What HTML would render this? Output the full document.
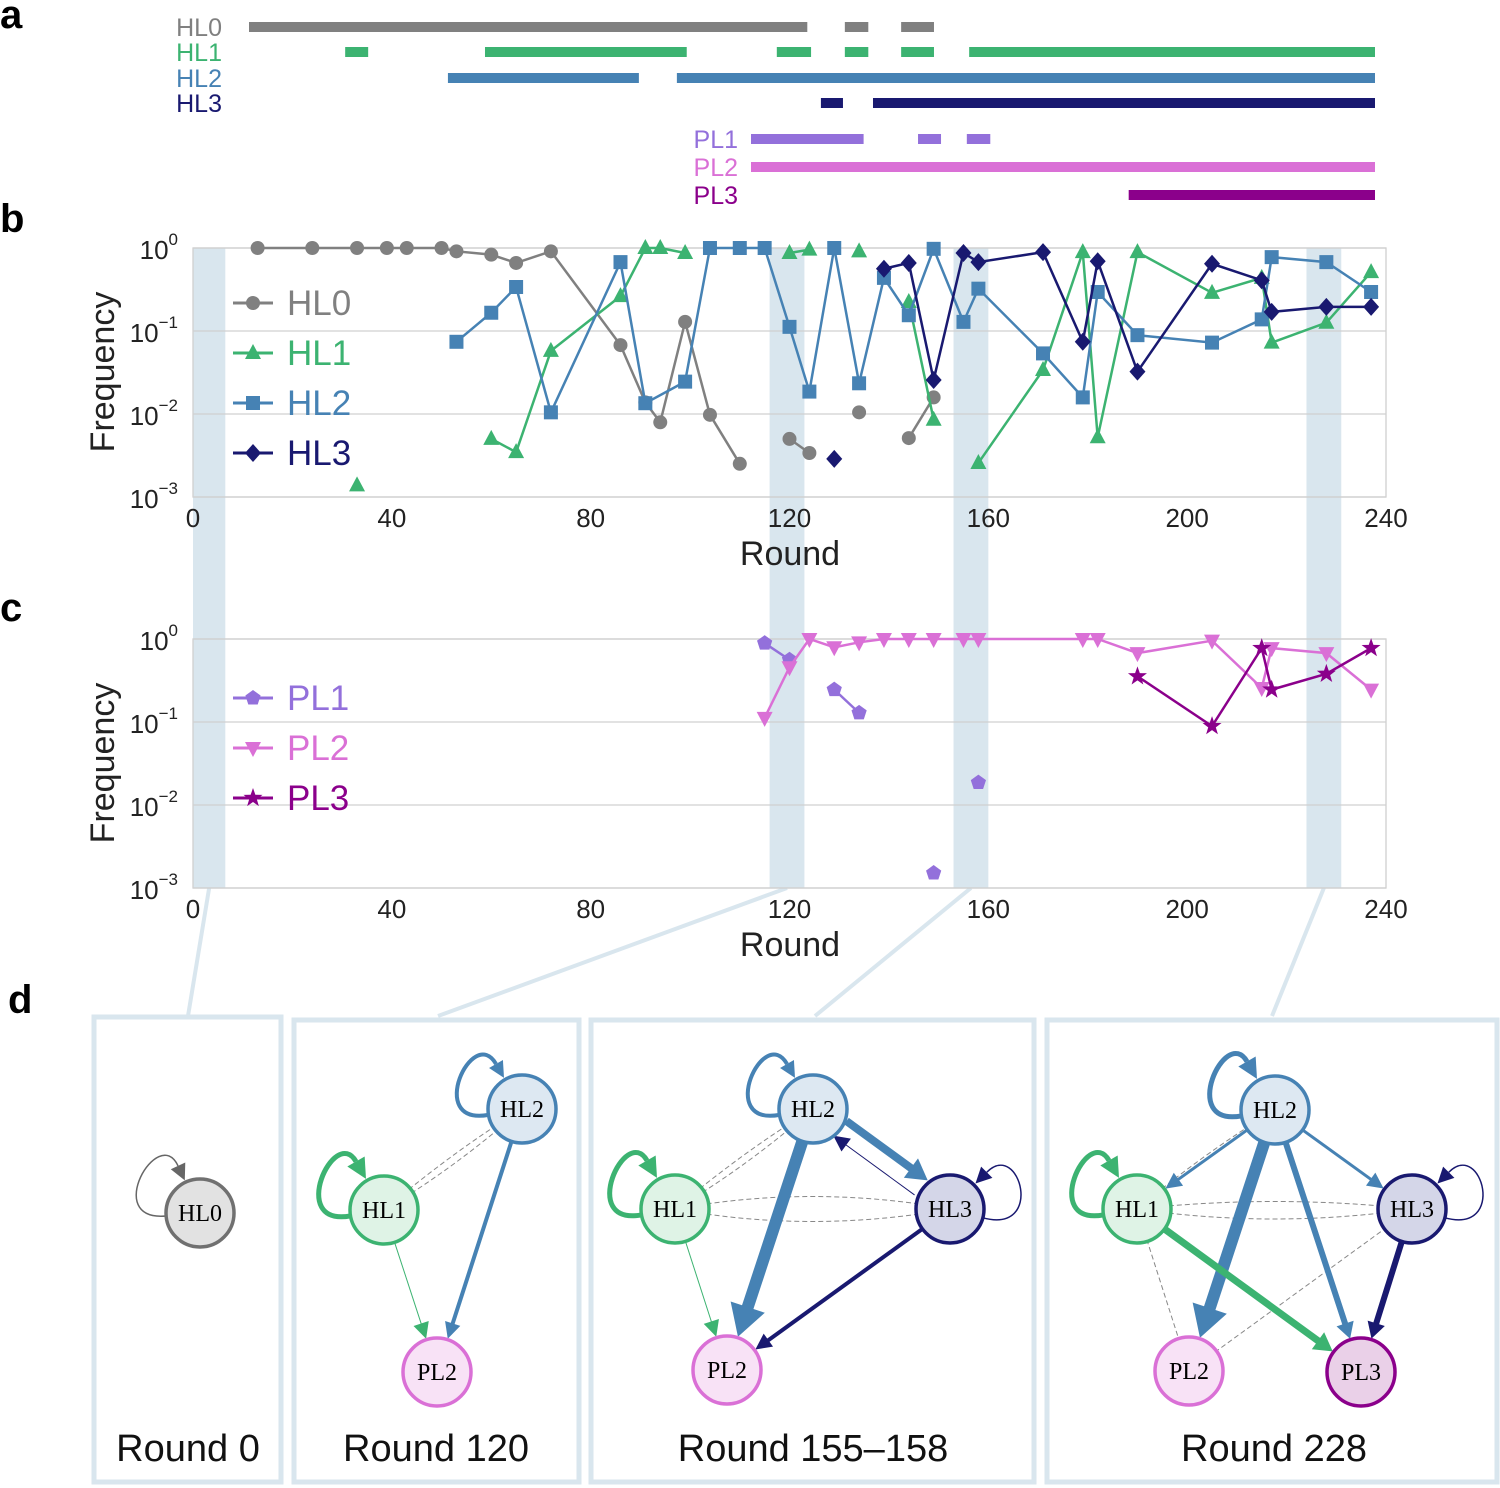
<!DOCTYPE html>
<html><head><meta charset="utf-8"><style>
body{margin:0;background:#fff;}
svg{display:block;font-family:"Liberation Sans",sans-serif;}
</style></head><body>
<svg id="fig" width="1500" height="1488" viewBox="0 0 1500 1488"></svg>
<script>
// ---------- panel a timelines (round start/end) ----------
const timelineNames=["HL0","HL1","HL2","HL3","PL1","PL2","PL3"];
const tlHL0=[[0,119],[127,132],[139,146]];
const tlHL1=[[20.5,25.4],[50.3,93.3],[112.5,119.8],[127,132],[139,146],[153.5,240]];
const tlHL2=[[42.4,83.1],[91.2,240]];
const tlHL3=[[121.9,126.6],[133,240]];
const tlPL1=[[107,131],[142.6,147.5],[153,158]];
const tlPL2=[[107,240]];
const tlPL3=[[187.5,240]];
// ---------- panel b data (round, log10 frequency; null = break) ----------
const hl0Rounds=[13,24,33,39,43,50,53,60,65,72,86,91,94,99,104,110,null,120,124,null,134,null,144,149];
const hl0Log=[0,0,0,0,0,0,-0.04,-0.08,-0.18,-0.04,-1.17,-1.86,-2.1,-0.89,-2.01,-2.6,null,-2.3,-2.47,null,-1.98,null,-2.29,-1.8];
const hl1Rounds=[33,null,60,65,72,86,91,94,99,null,120,124,null,134,null,144,149,null,158,171,179,182,190,205,215,217,228,237];
const hl1Log=[-2.86,null,-2.3,-2.46,-1.24,-0.58,0,0,-0.06,null,-0.06,-0.02,null,-0.04,null,-0.65,-2.07,null,-2.59,-1.47,-0.05,-2.28,-0.05,-0.54,-0.36,-1.14,-0.9,-0.29];
const hl2Rounds=[53,60,65,72,86,91,99,104,110,115,120,124,129,134,139,144,149,155,158,171,179,182,190,205,215,217,228,237];
const hl2Log=[-1.13,-0.78,-0.47,-1.98,-0.17,-1.87,-1.61,0,0,0,-0.95,-1.73,0,-1.63,-0.36,-0.81,-0.01,-0.89,-0.49,-1.27,-1.8,-0.53,-1.05,-1.14,-0.86,-0.11,-0.17,-0.53];
const hl3Rounds=[129,null,139,144,149,155,158,171,179,182,190,205,215,217,228,237];
const hl3Log=[-2.54,null,-0.25,-0.18,-1.59,-0.06,-0.17,-0.05,-1.13,-0.16,-1.49,-0.19,-0.39,-0.77,-0.71,-0.71];
// ---------- panel c data ----------
const pl1Rounds=[115,120,null,129,134,null,149,null,158];
const pl1Log=[-0.05,-0.25,null,-0.61,-0.89,null,-2.82,null,-1.73];
const pl2Rounds=[115,120,124,129,134,139,144,149,155,158,179,182,190,205,215,217,228,237];
const pl2Log=[-0.95,-0.34,0,-0.1,-0.04,0,0,0,0,0,0,0,-0.17,-0.02,-0.59,-0.11,-0.17,-0.61];
const pl3Rounds=[190,205,215,217,228,237];
const pl3Log=[-0.45,-1.05,-0.11,-0.61,-0.42,-0.11];
// ---------- axes ----------
const xTicks=[0,40,80,120,160,200,240];
const yTickExp=[0,-1,-2,-3];
const bandRanges=[[0,6.5],[116,123],[153,160],[224,231]];

const C={HL0:"#808080",HL1:"#3cb371",HL2:"#4682b4",HL3:"#191970",PL1:"#9370db",PL2:"#da70d6",PL3:"#8b008b"};
const NS="http://www.w3.org/2000/svg";
const svg=document.getElementById('fig');
function el(tag,attrs,parent,text){const e=document.createElementNS(NS,tag);for(const k in attrs)e.setAttribute(k,attrs[k]);if(text!==undefined)e.textContent=text;(parent||svg).appendChild(e);return e;}

const X0=193,X1=1386;
const xs=r=>X0+r*(X1-X0)/240;
const ybTop=248, ycTop=639, dec=83;
const yb=l=>ybTop-l*dec;
const yc=l=>ycTop-l*dec;
const xa=r=>249+r*(1126/240);

[["a",0,28],["b",0,232],["c",0,621],["d",8,1013]].forEach(([t,x,y])=>{
  const e=el('text',{x:x,y:y,'font-size':40,'font-weight':'bold',fill:'#000'},svg,t);
  
  
});

// ---------- panel a ----------
const tlData=[tlHL0,tlHL1,tlHL2,tlHL3,tlPL1,tlPL2,tlPL3];
const tlRowY=[27,52,78,103,139,167,195];
const gA=el('g',{});


tlData.forEach((segs,i)=>{
  const nm=timelineNames[i];
  const lx=i<4?222:738;
  const lab=el('text',{x:lx,y:tlRowY[i]+9,'font-size':25,fill:C[nm],'text-anchor':'end'},gA,nm);
  
  
  segs.forEach(s=>{
    const r=el('rect',{x:xa(s[0]),y:tlRowY[i]-5,width:xa(s[1])-xa(s[0]),height:10,fill:C[nm]},gA);
    
    
  });
});

// ---------- bands & connectors ----------
bandRanges.forEach((b,i)=>{
  const r=el('rect',{x:xs(b[0]),y:ybTop,width:xs(b[1])-xs(b[0]),height:888-ybTop,fill:'#d9e6ee'});
  
  
});
const connTargets=[188,438,815,1272];
bandRanges.forEach((b,i)=>{
  const cx=(xs(b[0])+xs(b[1]))/2;
  const l=el('line',{x1:cx,y1:888,x2:connTargets[i],y2:1016,stroke:'#d9e6ee','stroke-width':4});
  
  
});

// ---------- markers ----------
function marker(g,type,x,y,col){
  let m;
  if(type==='circle')m=el('circle',{cx:x,cy:y,r:7,fill:col},g);
  else if(type==='tri')m=el('polygon',{points:`${x},${y-9} ${x-8},${y+6} ${x+8},${y+6}`,fill:col},g);
  else if(type==='square')m=el('rect',{x:x-7,y:y-7,width:14,height:14,fill:col},g);
  else if(type==='diamond')m=el('polygon',{points:`${x},${y-9} ${x+8},${y} ${x},${y+9} ${x-8},${y}`,fill:col},g);
  else if(type==='tridown')m=el('polygon',{points:`${x-8},${y-6} ${x+8},${y-6} ${x},${y+9}`,fill:col},g);
  else if(type==='pent'){let p=[];for(let k=0;k<5;k++){const a=-Math.PI/2+k*2*Math.PI/5;p.push((x+8*Math.cos(a))+','+(y+8*Math.sin(a)));}m=el('polygon',{points:p.join(' '),fill:col},g);}
  else if(type==='star'){let p=[];for(let k=0;k<10;k++){const a=-Math.PI/2+k*Math.PI/5;const rr=k%2?4:10;p.push((x+rr*Math.cos(a))+','+(y+rr*Math.sin(a)));}m=el('polygon',{points:p.join(' '),fill:col},g);}
  
  
}
function series(name,rounds,logs,yf,type){
  const g=el('g',{});
  
  
  let seg=[];const segs=[];
  rounds.forEach((r,i)=>{if(r===null||logs[i]===null){if(seg.length)segs.push(seg);seg=[];}else seg.push([xs(r),yf(logs[i])]);});
  if(seg.length)segs.push(seg);
  segs.forEach(s=>{if(s.length>1){const p=el('polyline',{points:s.map(q=>q.join(',')).join(' '),fill:'none',stroke:C[name],'stroke-width':2.5},g);}});
  segs.forEach(s=>s.forEach(q=>marker(g,type,q[0],q[1],C[name])));
}
function axes(prefix,top,yf){
  const g=el('g',{});
  
  
  yTickExp.forEach(e=>{
    const y=yf(e);
    el('line',{x1:X0,y1:y,x2:X1,y2:y,stroke:'#d0d0d0','stroke-width':1.3},g);
    const t=el('text',{x:178,y:y+11,'font-size':26,fill:'#222','text-anchor':'end'},g,'10');
    
    
    el('tspan',{dy:-14,'font-size':17},t,String(e).replace('-','\u2212'));
  });
  el('rect',{x:X0,y:top,width:X1-X0,height:3*dec,fill:'none',stroke:'#d0d0d0','stroke-width':1.3},g);
  xTicks.forEach(v=>{
    const t=el('text',{x:xs(v),y:top+3*dec+30,'font-size':26,fill:'#222','text-anchor':'middle'},g,String(v));
    
    
  });
  const xt=el('text',{x:790,y:top+3*dec+68,'font-size':34,fill:'#222','text-anchor':'middle'},g,'Round');
  
  
  const yt=el('text',{x:0,y:0,'font-size':34,fill:'#222','text-anchor':'middle',transform:`translate(114,${top+124}) rotate(-90)`},g,'Frequency');
  
  
}
axes('panel-b',ybTop,yb);
axes('panel-c',ycTop,yc);
series('HL0',hl0Rounds,hl0Log,yb,'circle');
series('HL1',hl1Rounds,hl1Log,yb,'tri');
series('HL2',hl2Rounds,hl2Log,yb,'square');
series('HL3',hl3Rounds,hl3Log,yb,'diamond');
series('PL1',pl1Rounds,pl1Log,yc,'pent');
series('PL2',pl2Rounds,pl2Log,yc,'tridown');
series('PL3',pl3Rounds,pl3Log,yc,'star');

function legend(items,y0){
  items.forEach(([nm,type],i)=>{
    const g=el('g',{});
    
    
    const y=y0+i*50;
    el('line',{x1:233,y1:y,x2:273,y2:y,stroke:C[nm],'stroke-width':3},g);
    marker(g,type,253,y,C[nm]);
    el('text',{x:287,y:y+12,'font-size':35,fill:C[nm]},g,nm);
  });
}
legend([['HL0','circle'],['HL1','tri'],['HL2','square'],['HL3','diamond']],303);
legend([['PL1','pent'],['PL2','tridown'],['PL3','star']],698);

// ---------- panel d ----------
const boxes=[[94,1017,187,465,'Round 0',188],[294,1020,285,462,'Round 120',436],[591,1020,443,462,'Round 155\u2013158',813],[1047,1020,450,462,'Round 228',1274]];
boxes.forEach((b,i)=>{
  const g=el('g',{});
  
  
  el('rect',{x:b[0],y:b[1],width:b[2],height:b[3],fill:'#fff',stroke:'#d9e6ee','stroke-width':5},g);
  const t=el('text',{x:b[5],y:1461,'font-size':38,fill:'#111','text-anchor':'middle'},g,b[4]);
  
  
});
const R=34;
const fills={HL0:['#e2e2e2','#707070'],HL1:['#dff3e6','#3cb371'],HL2:['#dde8f2','#4682b4'],HL3:['#d4d6e8','#191970'],PL2:['#f8e2f6','#da70d6'],PL3:['#ead0e8','#8b008b']};
function arrow(a,b,w,col){
  const dx=b[0]-a[0],dy=b[1]-a[1],L=Math.hypot(dx,dy),ux=dx/L,uy=dy/L;
  const sx=a[0]+ux*R,sy=a[1]+uy*R,ex=b[0]-ux*(R+1),ey=b[1]-uy*(R+1);
  const hl=Math.max(16,w*2.6),hw=Math.max(8,w*1.5);
  const bx=ex-ux*hl,by=ey-uy*hl;
  const l=el('line',{x1:sx,y1:sy,x2:bx+ux*2,y2:by+uy*2,stroke:col,'stroke-width':w});
  
  
  el('polygon',{points:`${ex},${ey} ${bx-uy*hw},${by+ux*hw} ${bx+uy*hw},${by-ux*hw}`,fill:col});
}
function dashed(a,b,bend){
  const mx=(a[0]+b[0])/2,my=(a[1]+b[1])/2+(bend||0);
  const p=el('path',{d:`M${a[0]},${a[1]} Q${mx},${my} ${b[0]},${b[1]}`,fill:'none',stroke:'#888','stroke-width':1,'stroke-dasharray':'5,3'});
  
  
}
function loop(c,w,col,a1,a2){
  const r1=a1*Math.PI/180,r2=a2*Math.PI/180;
  const s=[c[0]+R*Math.cos(r1),c[1]+R*Math.sin(r1)],e=[c[0]+(R+2)*Math.cos(r2),c[1]+(R+2)*Math.sin(r2)];
  const k=2.9;
  const c1=[c[0]+k*R*Math.cos(r1),c[1]+k*R*Math.sin(r1)],c2=[c[0]+k*R*Math.cos(r2),c[1]+k*R*Math.sin(r2)];
  const hl=Math.max(16,w*4),hw=Math.max(8,w*2);
  // arrow direction: tangent at end of curve (from c2 to e)
  let ux=e[0]-c2[0],uy=e[1]-c2[1];const L=Math.hypot(ux,uy);ux/=L;uy/=L;
  const bx=e[0]-ux*hl,by=e[1]-uy*hl;
  const p=el('path',{d:`M${s[0]},${s[1]} C${c1[0]},${c1[1]} ${c2[0]},${c2[1]} ${bx},${by}`,fill:'none',stroke:col,'stroke-width':w});
  
  
  el('polygon',{points:`${e[0]},${e[1]} ${bx-uy*hw},${by+ux*hw} ${bx+uy*hw},${by-ux*hw}`,fill:col});
}
function node(c,nm){
  const g=el('g',{});
  
  
  el('circle',{cx:c[0],cy:c[1],r:R,fill:fills[nm][0],stroke:fills[nm][1],'stroke-width':3.5},g);
  el('text',{x:c[0],y:c[1]+8,'font-size':24,'font-family':'"Liberation Serif",serif','text-anchor':'middle',fill:'#000'},g,nm);
}
// box 1
const n0=[200,1213];
loop(n0,1.5,'#666',175,245);node(n0,'HL0');
// box 2
const b2={HL2:[522,1109],HL1:[384,1210],PL2:[437,1372]};
dashed(b2.HL1,b2.HL2,-8);dashed(b2.HL1,b2.HL2,10);
loop(b2.HL2,4,C.HL2,170,240);loop(b2.HL1,5,C.HL1,170,240);
arrow(b2.HL2,b2.PL2,4,C.HL2);arrow(b2.HL1,b2.PL2,1,C.HL1);
Object.keys(b2).forEach(k=>node(b2[k],k));
// box 3
const b3={HL2:[813,1109],HL1:[675,1209],HL3:[950,1209],PL2:[727,1370]};
dashed(b3.HL1,b3.HL2,-8);dashed(b3.HL1,b3.HL2,10);dashed(b3.HL1,b3.HL3,-25);dashed(b3.HL1,b3.HL3,25);
loop(b3.HL2,4,C.HL2,170,240);loop(b3.HL1,5,C.HL1,170,240);loop(b3.HL3,1.5,C.HL3,15,-45);
arrow(b3.HL2,b3.PL2,12,C.HL2);arrow([b3.HL2[0]+6,b3.HL2[1]-8],[b3.HL3[0]+6,b3.HL3[1]-8],8,C.HL2);
arrow([b3.HL3[0]-8,b3.HL3[1]+6],[b3.HL2[0]-8,b3.HL2[1]+6],1,C.HL3);
arrow(b3.HL3,b3.PL2,4,C.HL3);arrow(b3.HL1,b3.PL2,1,C.HL1);
Object.keys(b3).forEach(k=>node(b3[k],k));
// box 4
const b4={HL2:[1275,1110],HL1:[1137,1209],HL3:[1412,1209],PL2:[1189,1371],PL3:[1361,1372]};
dashed(b4.HL1,b4.HL2,-8);dashed(b4.HL1,b4.HL3,-15);dashed(b4.HL1,b4.HL3,20);dashed(b4.HL1,b4.PL2,0);dashed(b4.PL2,b4.HL3,0);
loop(b4.HL2,5,C.HL2,170,240);loop(b4.HL1,5,C.HL1,170,240);loop(b4.HL3,1.5,C.HL3,15,-45);
arrow(b4.HL2,b4.PL2,12,C.HL2);arrow(b4.HL2,b4.PL3,6,C.HL2);arrow(b4.HL2,b4.HL1,3,C.HL2);arrow(b4.HL2,b4.HL3,3,C.HL2);
arrow(b4.HL3,b4.PL3,6,C.HL3);arrow(b4.HL1,b4.PL3,7,C.HL1);
Object.keys(b4).forEach(k=>node(b4[k],k));
</script>
</body></html>
